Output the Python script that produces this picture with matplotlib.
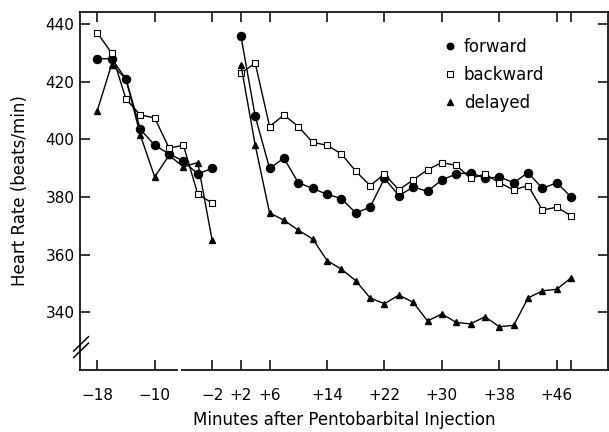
#!/usr/bin/env python3
"""Heart rate before and after pentobarbital injection.

Three conditions (forward, backward, delayed), two recording segments
split by the injection. Saves out.png.
"""

from matplotlib.lines import Line2D
import matplotlib.pyplot as plt


# minutes relative to injection
x_pre = [-18, -16, -14, -12, -10, -8, -6, -4, -2]
x_post = [2, 4, 6, 8, 10, 12, 14, 16, 18, 20, 22, 24,
	26, 28, 30, 32, 34, 36, 38, 40, 42, 44, 46, 48]

# heart rate (beats/min)
forward_pre = [428, 428, 421, 403.5, 398, 395, 392.5, 388, 390]
backward_pre = [437, 430, 414, 408.5, 407.5, 397, 398, 381, 378]
delayed_pre = [410, 426, 421, 401.5, 387, 394.5, 390.5, 392, 365]

forward_post = [436, 408, 390, 393.5, 385, 383, 381, 379.5, 374.5, 376.5, 386.5, 380.5,
	383.5, 382, 386, 388, 388.5, 386.5, 387, 385, 388.5, 383, 385, 380]
backward_post = [423, 426.5, 404.5, 408.5, 404.5, 399, 398, 395, 389, 384, 388, 382.5,
	386, 389.5, 392, 391, 386.5, 388, 385, 382.5, 384, 375.5, 376.5, 373.5]
delayed_post = [426, 398, 374.5, 372, 368.5, 365.5, 358, 355, 351, 345, 343, 346,
	343.5, 337, 339.5, 336.5, 336, 338.5, 335, 335.5, 345, 347.5, 348, 352]

series_names = ["forward", "backward", "delayed"]

x_ticks = [-18, -10, -2, 2, 6, 14, 22, 30, 38, 46]
x_tick_labels = ["\u221218", "\u221210", "\u22122", "+2", "+6", "+14", "+22", "+30", "+38", "+46"]
y_ticks = [340, 360, 380, 400, 420, 440]

STYLES = {
	"forward": dict(marker="o", markersize=5.8, markerfacecolor="black", markeredgecolor="black"),
	"backward": dict(marker="s", markersize=4.6, markerfacecolor="white", markeredgecolor="black",
		markeredgewidth=0.8),
	"delayed": dict(marker="^", markersize=4.6, markerfacecolor="black", markeredgecolor="black"),
}


def main():
	fig = plt.figure(figsize=(6.09, 4.32), dpi=100)
	ax = fig.add_axes([0.1314, 0.1435, 0.8666, 0.8285])

	pre = {"forward": forward_pre, "backward": backward_pre, "delayed": delayed_pre}
	post = {"forward": forward_post, "backward": backward_post, "delayed": delayed_post}

	for name in series_names:
		st = STYLES[name]
		ax.plot(x_pre, pre[name], color="black", lw=1.0, **st)
		ax.plot(x_post, post[name], color="black", lw=1.0, **st)

	ax.set_xlim(-20.4, 53.1)
	ax.set_ylim(320, 444.2)

	ax.set_xticks(x_ticks)
	ax.set_xticklabels(x_tick_labels)
	ax.set_xticks([48], minor=True)
	ax.set_yticks(y_ticks)

	ax.tick_params(axis="both", which="both", direction="in", length=7, width=1.1,
		top=True, right=True, labelsize=11, colors="black")
	ax.tick_params(axis="x", pad=13)
	ax.tick_params(axis="y", pad=4)
	for sp in ax.spines.values():
		sp.set_linewidth(1.2)

	# small break in the scanned x axis line
	ax.plot([-6.8, -6.3], [320, 320], color="white", lw=3, solid_capstyle="butt",
		clip_on=False, zorder=5)

	# y-axis break marks "//"
	for dy in (0.0, 0.018):
		ax.plot([-0.012, 0.016], [0.035 + dy, 0.075 + dy], transform=ax.transAxes,
			color="black", lw=1.1, clip_on=False, zorder=6)

	ax.set_xlabel("Minutes after Pentobarbital Injection", fontsize=12, labelpad=6)
	ax.set_ylabel("Heart Rate (beats/min)", fontsize=12, labelpad=12)

	handles = [Line2D([], [], ls="none", color="black", **STYLES[n]) for n in series_names]
	ax.legend(handles, series_names, loc="upper left", bbox_to_anchor=(0.689, 0.928),
		frameon=False, fontsize=12, handlelength=0.8, handletextpad=0.4,
		borderpad=0, borderaxespad=0, labelspacing=0.6, markerscale=0.8)

	fig.savefig("out.png", dpi=100)
	plt.close(fig)


if __name__ == "__main__":
	main()
